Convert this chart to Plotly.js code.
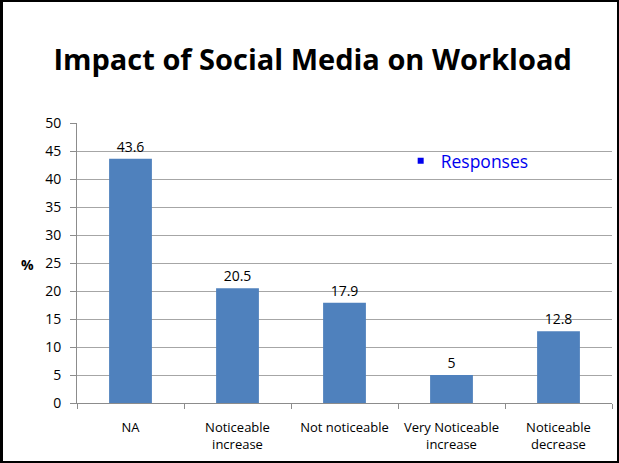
<!DOCTYPE html>
<html>
<head>
<meta charset="utf-8">
<script src="https://cdn.plot.ly/plotly-3.0.1.min.js"></script>
<style>
html,body{margin:0;padding:0;background:#fff;}
#wrap{position:relative;width:619px;height:463px;}
#chart{width:619px;height:463px;}
#frame{position:absolute;left:0;top:0;width:619px;height:463px;box-sizing:border-box;border:2px solid #000;border-left-width:3px;pointer-events:none;}
</style>
</head>
<body>
<div id="wrap"><div id="chart"></div><div id="frame"></div></div>
<script>
const categories = ["NA", "Noticeable<br>increase", "Not noticeable", "Very Noticeable<br>increase", "Noticeable<br>decrease"];
const responses = [43.6, 20.5, 17.9, 5, 12.8];
const seriesName = "Responses";
const yTicks = [0, 5, 10, 15, 20, 25, 30, 35, 40, 45, 50];

const font = "Open Sans, Noto Sans, sans-serif";

const traces = [
  {
    type: "bar",
    x: categories,
    y: responses,
    marker: {color: "#4F81BD"},
    text: responses.map(String),
    textposition: "outside",
    cliponaxis: false,
    textfont: {family: font, size: 14, color: "#000"},
    showlegend: false,
    hoverinfo: "skip"
  },
  {
    type: "scatter",
    mode: "markers",
    x: [null],
    y: [null],
    name: seriesName,
    marker: {symbol: "square", size: 6, color: "#0000EE"},
    showlegend: true
  }
];

const layout = {
  width: 619,
  height: 463,
  margin: {l: 77, r: 7, t: 123, b: 60},
  paper_bgcolor: "#fff",
  plot_bgcolor: "#fff",
  title: {
    text: "<b>Impact of Social Media on Workload</b>",
    font: {family: font, size: 29, color: "#000"},
    x: 0.505, xanchor: "center",
    y: 0.87, yanchor: "middle"
  },
  bargap: 0.6,
  xaxis: {
    type: "category",
    showline: true,
    linecolor: "#8c8c8c",
    linewidth: 1,
    ticks: "outside",
    ticklen: 5,
    tickcolor: "#8c8c8c",
    tickson: "boundaries",
    tickfont: {family: font, size: 13, color: "#000"},
    ticklabelstandoff: 12,
    showgrid: false,
    fixedrange: true
  },
  yaxis: {
    range: [0, 50],
    tickvals: yTicks,
    showline: true,
    linecolor: "#8c8c8c",
    ticks: "outside",
    ticklen: 6,
    tickcolor: "#8c8c8c",
    showgrid: true,
    gridcolor: "#a6a6a6",
    gridwidth: 1,
    zeroline: false,
    tickfont: {family: font, size: 14, color: "#000"},
    ticklabelstandoff: 6,
    fixedrange: true
  },
  legend: {
    x: 0.605, y: 0.865, xanchor: "left", yanchor: "middle",
    font: {family: font, size: 17.5, color: "#0000EE"},
    bgcolor: "rgba(0,0,0,0)",
    itemwidth: 30
  },
  annotations: [
    {
      text: "<b>%</b>",
      xref: "paper", yref: "paper",
      x: -0.092, y: 0.495, xanchor: "center", yanchor: "middle",
      showarrow: false,
      font: {family: font, size: 14, color: "#000"}
    }
  ]
};

Plotly.newPlot("chart", traces, layout, {staticPlot: true, displayModeBar: false});
</script>
</body>
</html>
